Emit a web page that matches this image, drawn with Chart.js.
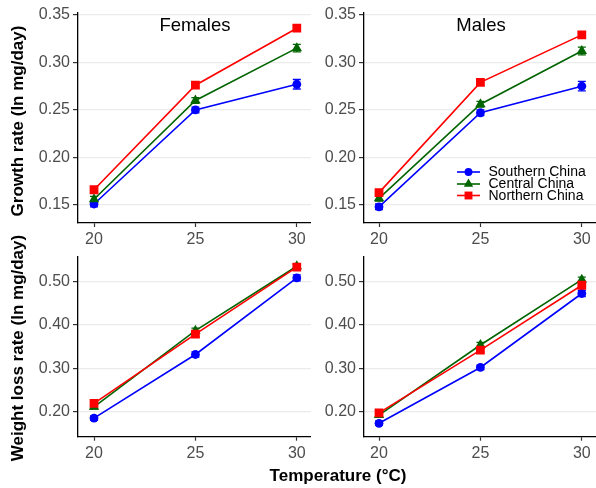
<!DOCTYPE html>
<html>
<head>
<meta charset="utf-8">
<script src="https://cdn.jsdelivr.net/npm/chart.js"></script>
<style>
  body { margin: 0; background: #fff; font-family: "Liberation Sans", Arial, sans-serif; }
  #wrap { position: relative; width: 596px; height: 488px; overflow: hidden; }
  canvas { position: absolute; }
  .lbl { position: absolute; white-space: nowrap; line-height: 1; color: #000; }
  .ytitle { font-weight: bold; font-size: 17px; transform: translate(-50%, -50%) rotate(-90deg); }
</style>
</head>
<body>
<div id="wrap">
  <canvas id="tl" width="317" height="252" style="left:0;top:0"></canvas>
  <canvas id="tr" width="312" height="252" style="left:290px;top:0"></canvas>
  <canvas id="bl" width="317" height="244" style="left:0;top:244px"></canvas>
  <canvas id="br" width="312" height="244" style="left:290px;top:244px"></canvas>
  <div class="lbl" style="left:195px;top:16px;font-size:18.5px;transform:translateX(-50%)">Females</div>
  <div class="lbl" style="left:481px;top:16px;font-size:18.5px;transform:translateX(-50%)">Males</div>
  <div class="lbl ytitle" style="left:17px;top:121px">Growth rate (ln mg/day)</div>
  <div class="lbl ytitle" style="left:17px;top:348px">Weight loss rate (ln mg/day)</div>
  <div class="lbl" style="left:338px;top:467px;font-size:17px;font-weight:bold;transform:translateX(-50%)">Temperature (°C)</div>
</div>
<script>
// temperatures (x) and regions
const temps = [20, 25, 30];
const regions = ['Southern China', 'Central China', 'Northern China'];

// growth rate, females
const growthFemaleSouth = [0.151, 0.250, 0.277];
const growthFemaleCentral = [0.156, 0.260, 0.315];
const growthFemaleNorth = [0.166, 0.276, 0.336];
// growth rate, males
const growthMaleSouth = [0.148, 0.247, 0.275];
const growthMaleCentral = [0.157, 0.256, 0.312];
const growthMaleNorth = [0.163, 0.279, 0.329];
// weight loss rate, females
const lossFemaleSouth = [0.185, 0.332, 0.509];
const lossFemaleCentral = [0.211, 0.387, 0.536];
const lossFemaleNorth = [0.219, 0.379, 0.534];
// weight loss rate, males
const lossMaleSouth = [0.173, 0.302, 0.473];
const lossMaleCentral = [0.192, 0.354, 0.505];
const lossMaleNorth = [0.197, 0.342, 0.492];

// standard errors (south, central, north)
const growthFemaleErr = [[0.003, 0.003, 0.005], [0.003, 0.003, 0.004], [0.003, 0.003, 0.003]];
const growthMaleErr = [[0.003, 0.003, 0.005], [0.003, 0.003, 0.004], [0.003, 0.003, 0.003]];
const lossFemaleErr = [[0.005, 0.006, 0.007], [0.005, 0.006, 0.006], [0.005, 0.006, 0.006]];
const lossMaleErr = [[0.005, 0.005, 0.007], [0.005, 0.006, 0.006], [0.005, 0.005, 0.006]];

// tick labels
const xTicks = [20, 25, 30];
const growthTicks = [0.15, 0.20, 0.25, 0.30, 0.35];
const lossTicks = [0.20, 0.30, 0.40, 0.50];

const colors = ['#0000ff', '#006400', '#ff0000'];
const shapes = ['circle', 'triangle', 'rect'];
const radii = [4.4, 6, 6.2];
const FONT = '"Liberation Sans", Arial, sans-serif';

function drawMarker(ctx, style, r, x, y) {
  ctx.beginPath();
  if (style === 'circle') {
    ctx.arc(x, y, r, 0, Math.PI * 2);
  } else if (style === 'rect') {
    const s = r / Math.SQRT2;
    ctx.rect(x - s, y - s, 2 * s, 2 * s);
  } else {
    const h = r * 1.5, w = r * Math.sqrt(3) / 2;
    ctx.moveTo(x, y - r);
    ctx.lineTo(x + w, y - r + h);
    ctx.lineTo(x - w, y - r + h);
    ctx.closePath();
  }
  ctx.fill();
}

function errorBars(errs) {
  return {
    id: 'errbars',
    beforeDatasetsDraw(chart) {
      const ctx = chart.ctx, xs = chart.scales.x, ys = chart.scales.y;
      chart.data.datasets.forEach((ds, i) => {
        ctx.save();
        ctx.strokeStyle = ds.borderColor;
        ctx.lineWidth = 1.3;
        ds.data.forEach((p, k) => {
          const px = xs.getPixelForValue(p.x);
          const top = ys.getPixelForValue(p.y + errs[i][k]);
          const bot = ys.getPixelForValue(p.y - errs[i][k]);
          ctx.beginPath();
          ctx.moveTo(px, top); ctx.lineTo(px, bot);
          ctx.moveTo(px - 4, top); ctx.lineTo(px + 4, top);
          ctx.moveTo(px - 4, bot); ctx.lineTo(px + 4, bot);
          ctx.stroke();
        });
        ctx.restore();
      });
    }
  };
}

const legendPlugin = {
  id: 'sideLegend',
  afterDraw(chart) {
    const ctx = chart.ctx;
    const rows = [172, 184, 195.5];
    ctx.save();
    chart.data.datasets.forEach((ds, i) => {
      const y = rows[i];
      ctx.strokeStyle = ds.borderColor;
      ctx.fillStyle = ds.borderColor;
      ctx.lineWidth = 1.6;
      ctx.beginPath();
      ctx.moveTo(167, y); ctx.lineTo(190, y);
      ctx.stroke();
      drawMarker(ctx, shapes[i], radii[i] * 0.9, 178.5, y);
      ctx.fillStyle = '#000';
      ctx.font = '14px ' + FONT;
      ctx.textBaseline = 'middle';
      ctx.fillText(ds.label, 198.5, y + 0.5);
    });
    ctx.restore();
  }
};

function makePanel(id, series, errs, yTicks, yMin, yMax, layout, extra) {
  const datasets = series.map((vals, i) => ({
    label: regions[i],
    data: temps.map((t, k) => ({ x: t, y: vals[k] })),
    borderColor: colors[i],
    backgroundColor: colors[i],
    borderWidth: 1.6,
    pointStyle: shapes[i],
    pointRadius: radii[i],
    pointBorderWidth: 0,
    order: 3 - i
  }));
  const plugins = [errorBars(errs)];
  if (extra) plugins.push(extra);
  return new Chart(document.getElementById(id).getContext('2d'), {
    type: 'line',
    data: { datasets },
    plugins,
    options: {
      responsive: false,
      animation: false,
      layout: { padding: { top: layout.padTop, left: 0, right: 0, bottom: 0 } },
      plugins: { legend: { display: false }, tooltip: { enabled: false } },
      scales: {
        x: {
          type: 'linear', min: layout.xMin, max: layout.xMax,
          afterBuildTicks: s => { s.ticks = xTicks.map(v => ({ value: v })); },
          afterFit: s => { s.height = layout.xH; },
          grid: { drawOnChartArea: false, tickLength: 4, tickColor: '#333', tickWidth: 1.2 },
          border: { color: '#000', width: 1.3 },
          ticks: { color: '#4d4d4d', font: { size: 16, family: FONT }, padding: 3, maxRotation: 0, callback: v => String(v) }
        },
        y: {
          min: yMin, max: yMax,
          afterBuildTicks: s => { s.ticks = yTicks.map(v => ({ value: v })); },
          afterFit: s => { s.width = layout.yW; },
          grid: { color: '#ebebeb', lineWidth: 1.2, tickLength: 5, tickColor: '#333', tickWidth: 1.2 },
          border: { color: '#000', width: 1.3 },
          ticks: { color: '#4d4d4d', font: { size: 16, family: FONT }, padding: 3, callback: v => Number(v).toFixed(2) }
        }
      }
    }
  });
}

makePanel('tl', [growthFemaleSouth, growthFemaleCentral, growthFemaleNorth], growthFemaleErr,
  growthTicks, 0.131, 0.352, { padTop: 13, xH: 29, yW: 78, xMin: 19.21, xMax: 30.69 });
makePanel('tr', [growthMaleSouth, growthMaleCentral, growthMaleNorth], growthMaleErr,
  growthTicks, 0.131, 0.352, { padTop: 13, xH: 29, yW: 74, xMin: 19.26, xMax: 30.69 }, legendPlugin);
makePanel('bl', [lossFemaleSouth, lossFemaleCentral, lossFemaleNorth], lossFemaleErr,
  lossTicks, 0.142, 0.558, { padTop: 12.7, xH: 51.3, yW: 78, xMin: 19.21, xMax: 30.69 });
makePanel('br', [lossMaleSouth, lossMaleCentral, lossMaleNorth], lossMaleErr,
  lossTicks, 0.142, 0.558, { padTop: 12.7, xH: 51.3, yW: 74, xMin: 19.26, xMax: 30.69 });
</script>
</body>
</html>
